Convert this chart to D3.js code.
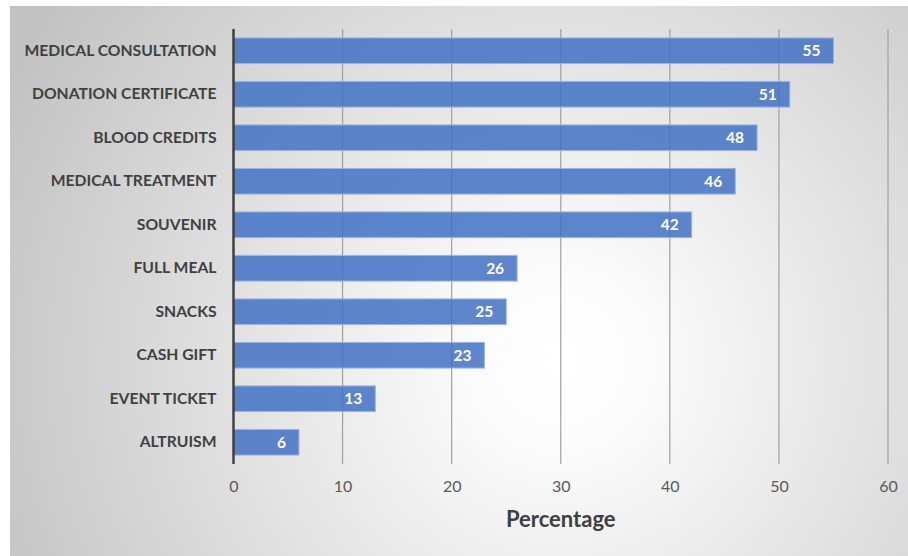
<!DOCTYPE html>
<html><head><meta charset="utf-8">
<script src="https://cdn.jsdelivr.net/npm/d3@7/dist/d3.min.js"></script>
<style>html,body{margin:0;padding:0;background:#fff;}</style>
</head><body>
<svg id="c" width="908" height="556"></svg>
<script>
const categories = ["MEDICAL CONSULTATION","DONATION CERTIFICATE","BLOOD CREDITS","MEDICAL TREATMENT","SOUVENIR","FULL MEAL","SNACKS","CASH GIFT","EVENT TICKET","ALTRUISM"];
const values = [55,51,48,46,42,26,25,23,13,6];
const xTicks = [0,10,20,30,40,50,60];
const xTitle = "Percentage";

const svg = d3.select("#c");
const defs = svg.append("defs");
const grad = defs.append("radialGradient").attr("id","bg")
  .attr("gradientUnits","userSpaceOnUse").attr("cx",560).attr("cy",360).attr("r",620);
grad.append("stop").attr("offset","0").attr("stop-color","#ffffff");
grad.append("stop").attr("offset","0.15").attr("stop-color","#fbfbfb");
grad.append("stop").attr("offset","1").attr("stop-color","#c2c2c2");
svg.append("rect").attr("x",10).attr("y",6).attr("width",898).attr("height",550).attr("fill","url(#bg)");

const m = {left:233.5, right:888, top:29, bottom:464};
const x = d3.scaleLinear().domain([0,60]).range([m.left,m.right]);
const y = d3.scaleBand().domain(categories).range([m.top,m.bottom]).paddingInner(0.41).paddingOuter(0.205);

const font = "Lato, 'Open Sans', sans-serif";

// gridlines
svg.append("g").selectAll("line").data(xTicks.filter(d=>d>0)).join("line")
  .attr("x1",d=>x(d)).attr("x2",d=>x(d)).attr("y1",m.top).attr("y2",m.bottom)
  .attr("stroke","#a0a0a0").attr("stroke-width",1.2);

// bars
svg.append("g").selectAll("rect").data(values).join("rect")
  .attr("x",x(0)).attr("y",(d,i)=>y(categories[i]))
  .attr("width",d=>x(d)-x(0)).attr("height",y.bandwidth())
  .attr("fill","#4472c4").attr("fill-opacity",0.86)
  .attr("stroke","#9db4e0").attr("stroke-width",1);

// value labels
svg.append("g").selectAll("text").data(values).join("text")
  .attr("x",d=>x(d)-13).attr("y",(d,i)=>y(categories[i])+y.bandwidth()/2)
  .attr("dy","0.36em").attr("text-anchor","end")
  .attr("font-family",font).attr("font-weight","bold").attr("font-size",15.5)
  .attr("fill","#ffffff").text(d=>d);

// y axis line
svg.append("line").attr("x1",x(0)).attr("x2",x(0)).attr("y1",m.top).attr("y2",m.bottom)
  .attr("stroke","#404040").attr("stroke-width",2.5);

// category labels
const yAxis = d3.axisLeft(y).tickSize(0).tickPadding(17);
const ya = svg.append("g").attr("transform",`translate(${x(0)},0)`).call(yAxis);
ya.select(".domain").remove();
ya.selectAll("text").attr("font-family",font).attr("font-weight","bold").attr("font-size",15.7).attr("fill","#404040");

// x axis labels
const xAxis = d3.axisBottom(x).tickValues(xTicks).tickSize(0).tickPadding(17);
const xa = svg.append("g").attr("transform",`translate(0,${m.bottom})`).call(xAxis);
xa.select(".domain").remove();
xa.selectAll("text").attr("font-family",font).attr("font-size",16).attr("fill","#595959");

svg.append("text").attr("x",(m.left+m.right)/2).attr("y",527)
  .attr("text-anchor","middle").attr("font-family",font).attr("font-weight","bold")
  .attr("font-size",22).attr("fill","#404040").text(xTitle);
</script>
</body></html>
